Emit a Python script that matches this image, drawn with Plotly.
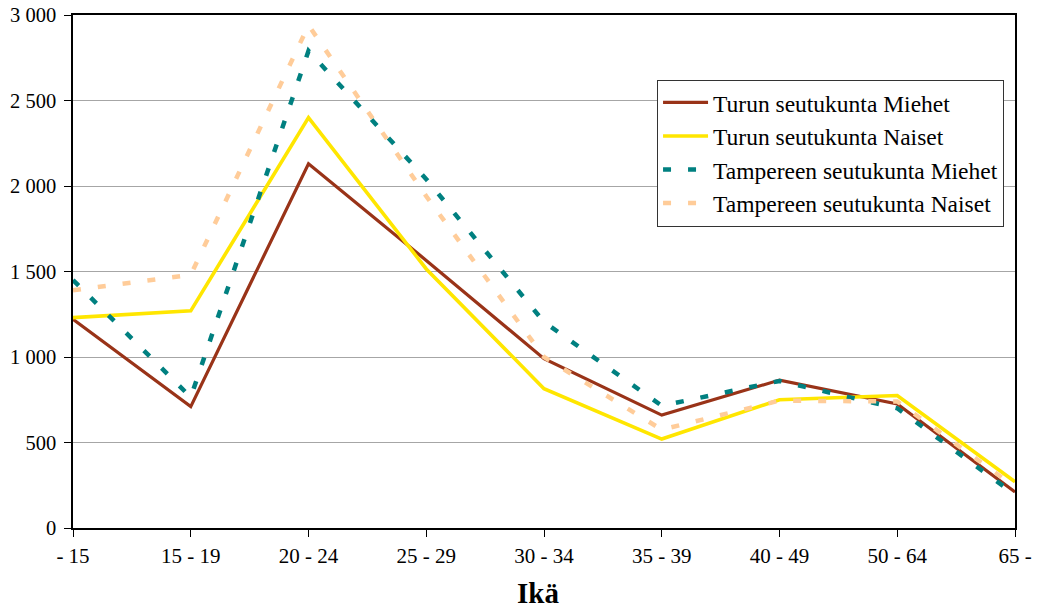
import plotly.graph_objects as go

categories = ["- 15", "15 - 19", "20 - 24", "25 - 29", "30 - 34", "35 - 39", "40 - 49", "50 - 64", "65 -"]
turku_miehet = [1220, 710, 2130, 1565, 990, 660, 865, 725, 210]
turku_naiset = [1230, 1270, 2400, 1515, 815, 520, 750, 775, 270]
tampere_miehet = [1450, 765, 2790, 2040, 1205, 715, 860, 700, 195]
tampere_naiset = [1390, 1480, 2940, 1940, 1000, 575, 745, 740, 240]

y_tickvals = [0, 500, 1000, 1500, 2000, 2500, 3000]
y_ticktext = ["0", "500", "1 000", "1 500", "2 000", "2 500", "3 000"]

series = [
    ("Turun seutukunta Miehet", turku_miehet, "#993318", 3.2, "solid"),
    ("Turun seutukunta Naiset", turku_naiset, "#FFE600", 3.6, "solid"),
    ("Tampereen seutukunta Miehet", tampere_miehet, "#008080", 4.5, "8px,17px"),
    ("Tampereen seutukunta Naiset", tampere_naiset, "#FFCC99", 4.5, "8px,17px"),
]

x_idx = list(range(len(categories)))

fig = go.Figure()
for name, vals, color, width, dash in series:
    fig.add_trace(go.Scatter(
        x=x_idx, y=vals, name=name, mode="lines",
        line=dict(color=color, width=width, dash=dash),
    ))

serif = "Liberation Serif"
x_tick_font = dict(family=serif, size=21, color="#000000")
y_tick_font = dict(family=serif, size=20.5, color="#000000")

# the page body adds an 8px offset, so the figure is sized to fill the rest of the window
fig.update_layout(
    width=1032, height=598,
    margin=dict(l=65, r=25, t=7, b=78),
    paper_bgcolor="white", plot_bgcolor="white",
    font=dict(family=serif, size=21, color="#000000"),
    showlegend=True,
    legend=dict(
        x=0.62, y=0.874, xanchor="left", yanchor="top",
        bgcolor="white", bordercolor="#333333", borderwidth=1,
        font=dict(family=serif, size=23.5, color="#000000"),
        itemwidth=45, tracegroupgap=0,
    ),
    xaxis=dict(
        range=[0, 8], tickmode="array", tickvals=x_idx, ticktext=categories,
        showgrid=False, zeroline=False, automargin=False,
        showline=True, linecolor="#000000", linewidth=1.5, mirror=True,
        ticks="outside", ticklen=7, tickcolor="#000000", tickwidth=1,
        ticklabelstandoff=1, tickfont=x_tick_font, ticklabeloverflow="allow",
    ),
    yaxis=dict(
        range=[0, 3000], tickmode="array", tickvals=y_tickvals, ticktext=y_ticktext,
        showgrid=True, gridcolor="#A6A6A6", gridwidth=1.2, zeroline=False, automargin=False,
        showline=True, linecolor="#000000", linewidth=1.5, mirror=True,
        ticks="outside", ticklen=7, tickcolor="#000000", tickwidth=1,
        ticklabelstandoff=4, tickfont=y_tick_font, ticklabeloverflow="allow",
    ),
    annotations=[dict(
        text="<b>Ikä</b>", xref="paper", yref="paper", x=0.494, y=-0.1275,
        xanchor="center", yanchor="middle", showarrow=False,
        font=dict(family=serif, size=29, color="#000000"),
    )],
)

fig.write_html("out.html")
